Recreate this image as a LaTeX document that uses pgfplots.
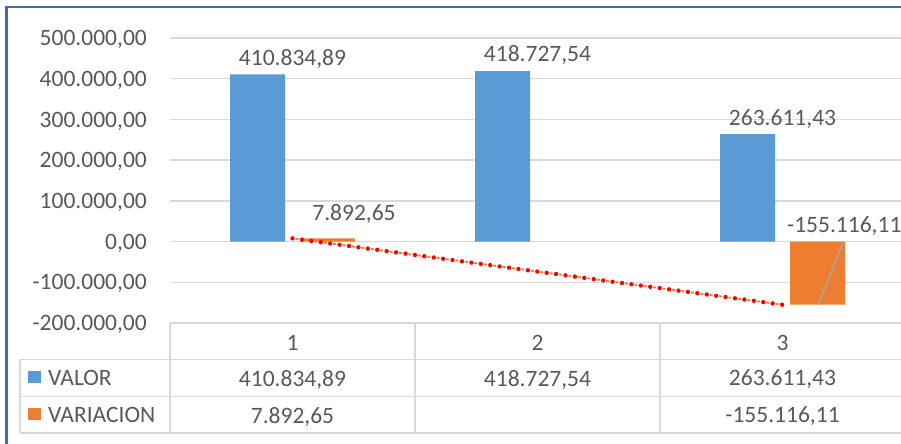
\documentclass[border=0pt]{standalone}
\usepackage{pgfplots}
\pgfplotsset{compat=1.18}
\usepackage{fontspec}
\setmainfont{Carlito}
\definecolor{txt}{HTML}{595959}
\definecolor{gridc}{HTML}{D9D9D9}
\definecolor{cblue}{HTML}{5B9BD5}
\definecolor{corange}{HTML}{ED7D31}
\definecolor{framec}{HTML}{41719C}
\newcommand{\cf}{\fontsize{23.5bp}{27bp}\selectfont}
\begin{document}
\begin{tikzpicture}[font=\cf, text=txt]
\fill[white] (0,0) rectangle (901bp,444bp);
\useasboundingbox (0,0) rectangle (901bp,444bp);
\begin{axis}[at={(170bp,121bp)}, anchor=south west, scale only axis,
  width=735bp, height=285bp,
  xmin=0.5, xmax=3.5, ymin=-200000, ymax=500000,
  ytick={-200000,-100000,0,100000,200000,300000,400000,500000},
  yticklabels={{-200.000,00},{-100.000,00},{0,00},{100.000,00},{200.000,00},{300.000,00},{400.000,00},{500.000,00}},
  scaled y ticks=false,
  xtick=\empty, ymajorgrids, major grid style={draw=gridc, line width=1.3bp},
  axis line style={draw=none}, major tick length=0pt,
  yticklabel style={anchor=east, inner sep=0pt, text depth=0pt, xshift=-23bp, font=\cf, text=txt},
  clip=false,
]
\addplot[ybar, bar width=55bp, bar shift=-35bp, fill=cblue, draw=none,
  point meta=explicit symbolic, nodes near coords,
  every node near coord/.append style={anchor=south, inner sep=0pt, text depth=0pt, yshift=9bp, font=\cf, text=txt}]
  coordinates {(1,410834.89) [410.834,89] (2,418727.54) [418.727,54] (3,263611.43) [263.611,43]};
\addplot[ybar, bar width=55bp, bar shift=35bp, fill=corange, draw=none]
  coordinates {(1,7892.65) (3,-155116.11)};
\addplot[gray!70, line width=1.5bp] coordinates {(3.146,-155116.11) (3.249,0)};
\addplot[corange, line width=1.8bp, dash pattern=on 3bp off 6.5bp, dash phase=-3bp] coordinates {(1,7892.65) (3,-155116.11)};
\addplot[red, line width=4.4bp, line cap=round, dash pattern=on 0pt off 9.5bp] coordinates {(1,7892.65) (3,-155116.11)};
\node[inner sep=0pt, text depth=0pt, font=\cf, text=txt] at (axis cs:1.251,71230) {7.892,65};
\node[anchor=west, inner sep=0pt, text depth=0pt, font=\cf, text=txt] at (axis cs:3.018,41755) {-155.116,11};
\end{axis}
\begin{scope}[shift={(0bp,444bp)}, x=1bp, y=-1bp]
\draw[framec, line width=2bp] (6.5,450) -- (6.5,7) -- (910,7);
\draw[gridc, line width=1.3bp] (20,359.5) -- (910,359.5) (20,396.5) -- (910,396.5) (20,433) -- (910,433);
\draw[gridc, line width=1.3bp] (20,359.5) -- (20,433) (170,323) -- (170,433) (415,323) -- (415,433) (660,323) -- (660,433) (905,323) -- (905,433);
\begin{scope}[every node/.style={inner sep=0pt, text depth=0pt, font=\cf, text=txt}]
\node at (292.5,342.5) {1};
\node at (537.5,342.5) {2};
\node at (782.5,342.5) {3};
\fill[cblue] (28,371) rectangle (40.5,383.5);
\node[anchor=west] at (48,377.5) {VALOR};
\fill[corange] (28,408) rectangle (40.5,420.5);
\node[anchor=west] at (48,414.5) {VARIACION};
\node at (292.5,378) {410.834,89};
\node at (537.5,378) {418.727,54};
\node at (782.5,378) {263.611,43};
\node at (292.5,415) {7.892,65};
\node at (782.5,415) {-155.116,11};
\end{scope}
\end{scope}
\end{tikzpicture}
\end{document}
